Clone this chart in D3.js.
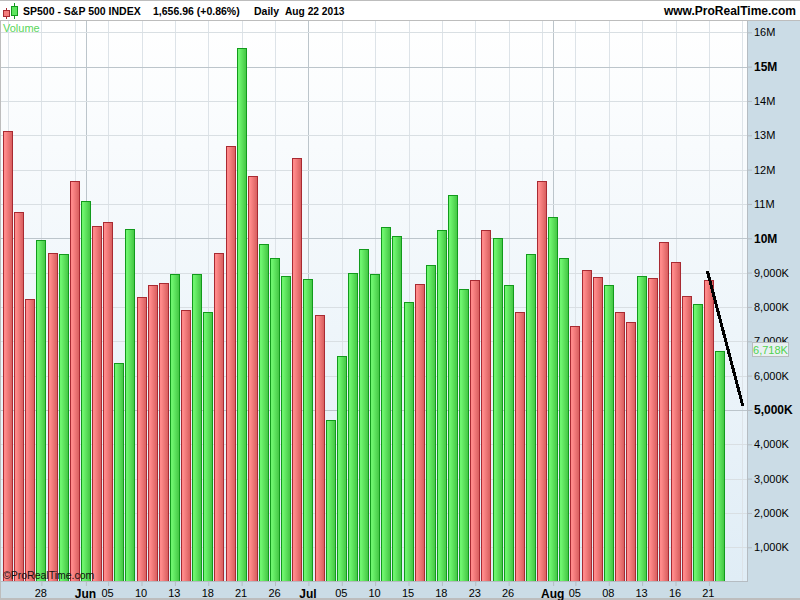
<!DOCTYPE html>
<html>
<head>
<meta charset="utf-8">
<title>SP500 volume</title>
<script src="https://cdn.jsdelivr.net/npm/d3@7/dist/d3.min.js"></script>
<style>
  html, body { margin: 0; padding: 0; background: #fff; }
  svg { display: block; }
  text { font-family: "Liberation Sans", Arial, sans-serif; }
</style>
</head>
<body>
<div id="chart"></div>
<script>
'use strict';

// volume per session, in millions
var volumes = [
  13.12, 10.78, 8.24, 9.94, 9.58, 9.53, 11.68, 11.09, 10.35, 10.46,
  6.38, 10.26, 8.30, 8.65, 8.71, 8.97, 7.91, 8.97, 7.85, 9.58,
  12.68, 15.53, 11.80, 9.82, 9.44, 8.91, 12.33, 8.82, 7.76, 4.70,
  6.58, 9.00, 9.70, 8.97, 10.32, 10.06, 8.14, 8.67, 9.22, 10.23,
  11.27, 8.52, 8.79, 10.23, 10.00, 8.64, 7.85, 9.55, 11.67, 10.62,
  9.44, 7.45, 9.09, 8.88, 8.65, 7.85, 7.56, 8.91, 8.85, 9.90,
  9.32, 8.33, 8.09, 8.79, 6.718
];

// d = down session (red), u = up session (green)
var directions = [
  'd', 'd', 'd', 'u', 'd', 'u', 'd', 'u', 'd', 'd',
  'u', 'u', 'd', 'd', 'd', 'u', 'd', 'u', 'u', 'd',
  'd', 'u', 'd', 'u', 'u', 'u', 'd', 'u', 'd', 'u',
  'u', 'u', 'u', 'u', 'u', 'u', 'u', 'd', 'u', 'u',
  'u', 'u', 'd', 'd', 'u', 'u', 'd', 'u', 'd', 'u',
  'u', 'd', 'd', 'd', 'u', 'd', 'd', 'u', 'd', 'd',
  'd', 'd', 'u', 'd', 'u'
];

var xTickIndex = [3, 7, 9, 12, 15, 18, 21, 24, 27, 30, 33, 36, 39, 42, 45, 49, 51, 54, 57, 60, 63];
var xTickLabels = ['28', 'Jun', '05', '10', '13', '18', '21', '26', 'Jul', '05', '10', '15', '18', '23', '26', 'Aug', '05', '08', '13', '16', '21'];
var monthLabels = ['Jun', 'Jul', 'Aug'];
var xGridIndex = [0, 3, 6, 9, 12, 15, 18, 21, 24, 27, 30, 33, 36, 39, 42, 45, 48, 51, 54, 57, 60, 63, 66];
var xMonthIndex = [7, 27, 49];

var yTicks = [1, 2, 3, 4, 5, 6, 7, 8, 9, 10, 11, 12, 13, 14, 15, 16];
var yMajor = [5, 10, 15];

// hand drawn trend line on the chart, session index and volume
var trendIndex = [62.86, 66.05];
var trendVolume = [9.05, 5.12];

var lastValueLabel = '6,718K';

var W = 800, H = 600;
var plotRight = 747, plotTop = 21, plotBottom = 581;

var x = d3.scaleLinear().domain([0, 64]).range([8, 720]);
var y = d3.scaleLinear().domain([0, 16]).range([581.6, 32.3]);

var svg = d3.select('#chart').append('svg').attr('width', W).attr('height', H);
var defs = svg.append('defs');

var bgGrad = defs.append('linearGradient').attr('id', 'bgGrad')
  .attr('x1', 0).attr('y1', 0).attr('x2', 0).attr('y2', 1);
bgGrad.append('stop').attr('offset', '0%').attr('stop-color', '#ffffff');
bgGrad.append('stop').attr('offset', '100%').attr('stop-color', '#e0edf6');

var addBarGrad = function addBarGrad(id, light, dark) {
  var g = defs.append('linearGradient').attr('id', id)
    .attr('x1', 0).attr('y1', 0).attr('x2', 1).attr('y2', 0);
  g.append('stop').attr('offset', '0%').attr('stop-color', light);
  g.append('stop').attr('offset', '20%').attr('stop-color', light);
  g.append('stop').attr('offset', '100%').attr('stop-color', dark);
};
addBarGrad('redBar', '#ff8a8a', '#d65c5c');
addBarGrad('greenBar', '#6ef56e', '#42c442');

/* panels */
svg.append('rect').attr('width', W).attr('height', H).attr('fill', '#bdbdbd');
svg.append('rect').attr('x', 0).attr('y', 1).attr('width', W).attr('height', 19).attr('fill', '#fff');
svg.append('rect').attr('x', 1).attr('y', plotTop).attr('width', W - 1).attr('height', 577).attr('fill', '#cbdce6');
svg.append('rect').attr('x', 1).attr('y', plotTop).attr('width', plotRight - 1).attr('height', plotBottom - plotTop).attr('fill', 'url(#bgGrad)');

/* grid */
var grid = svg.append('g').attr('shape-rendering', 'crispEdges');
grid.selectAll('line.v').data(xGridIndex).enter().append('line')
  .attr('class', 'v')
  .attr('x1', function (d) { return Math.round(x(d)) + 0.5; })
  .attr('x2', function (d) { return Math.round(x(d)) + 0.5; })
  .attr('y1', plotTop).attr('y2', plotBottom)
  .attr('stroke', '#dde3e8');
grid.selectAll('line.m').data(xMonthIndex).enter().append('line')
  .attr('class', 'm')
  .attr('x1', function (d) { return Math.round(x(d)) + 0.5; })
  .attr('x2', function (d) { return Math.round(x(d)) + 0.5; })
  .attr('y1', plotTop).attr('y2', plotBottom)
  .attr('stroke', '#bcc5cb');
grid.selectAll('line.h').data(yTicks).enter().append('line')
  .attr('class', 'h')
  .attr('x1', 1).attr('x2', plotRight)
  .attr('y1', function (d) { return Math.round(y(d)) + 0.5; })
  .attr('y2', function (d) { return Math.round(y(d)) + 0.5; })
  .attr('stroke', function (d) { return yMajor.indexOf(d) >= 0 ? '#bcc5cb' : '#d9dfe3'; });

/* bars */
svg.append('g').attr('shape-rendering', 'crispEdges')
  .selectAll('rect').data(volumes).enter().append('rect')
  .attr('x', function (d, i) { return Math.round(x(i) - 5) + 0.5; })
  .attr('y', function (d) { return Math.round(y(d)) + 0.5; })
  .attr('width', 9)
  .attr('height', function (d) { return plotBottom - Math.round(y(d)); })
  .attr('fill', function (d, i) { return directions[i] === 'u' ? 'url(#greenBar)' : 'url(#redBar)'; })
  .attr('stroke', function (d, i) { return directions[i] === 'u' ? '#129a1c' : '#a82a32'; });

/* plot frame */
svg.append('line').attr('x1', plotRight + 0.5).attr('x2', plotRight + 0.5).attr('y1', plotTop).attr('y2', plotBottom + 1)
  .attr('stroke', '#b5bcc2');
svg.append('line').attr('x1', 1).attr('x2', plotRight).attr('y1', plotBottom + 0.5).attr('y2', plotBottom + 0.5)
  .attr('stroke', '#b5bcc2');

/* y axis */
var yAxis = d3.axisRight(y)
  .tickValues(yTicks)
  .tickSize(5)
  .tickPadding(2)
  .tickFormat(function (d) { return d >= 10 ? d + 'M' : d3.format(',')(d * 1000) + 'K'; });
var yG = svg.append('g').attr('transform', 'translate(' + plotRight + ',0)').call(yAxis);
yG.select('.domain').remove();
yG.selectAll('line').attr('stroke', '#b5bcc2');
yG.selectAll('text')
  .attr('fill', '#000')
  .style('font-size', function (d) { return yMajor.indexOf(d) >= 0 ? '12px' : '11px'; })
  .style('font-weight', function (d) { return yMajor.indexOf(d) >= 0 ? 'bold' : 'normal'; });

/* x axis */
var xAxis = d3.axisBottom(x)
  .tickValues(xTickIndex)
  .tickSize(5)
  .tickPadding(3)
  .tickFormat(function (d, i) { return xTickLabels[i]; });
var xG = svg.append('g').attr('transform', 'translate(0,' + plotBottom + ')').call(xAxis);
xG.select('.domain').remove();
xG.selectAll('line').attr('stroke', '#b5bcc2');
xG.selectAll('text')
  .attr('dx', -1)
  .attr('fill', '#000')
  .style('font-size', function (d, i) { return monthLabels.indexOf(xTickLabels[i]) >= 0 ? '12px' : '11px'; })
  .style('font-weight', function (d, i) { return monthLabels.indexOf(xTickLabels[i]) >= 0 ? 'bold' : 'normal'; });

/* last value box */
svg.append('rect').attr('x', 752.5).attr('y', 342.5).attr('width', 36).attr('height', 14)
  .attr('fill', '#e9f0f2').attr('stroke', '#b8bcbe');
svg.append('text').attr('x', 770.5).attr('y', 354)
  .attr('text-anchor', 'middle').attr('font-size', 11).attr('fill', '#4fd24f')
  .text(lastValueLabel);

/* trend line */
svg.append('line')
  .attr('x1', x(trendIndex[0])).attr('y1', y(trendVolume[0]))
  .attr('x2', x(trendIndex[1])).attr('y2', y(trendVolume[1]))
  .attr('stroke', '#000').attr('stroke-width', 3)
  .attr('shape-rendering', 'crispEdges');

/* header */
var icon = svg.append('g').attr('shape-rendering', 'crispEdges');
icon.append('line').attr('x1', 6.5).attr('x2', 6.5).attr('y1', 8).attr('y2', 19).attr('stroke', '#a82a32');
icon.append('rect').attr('x', 3.5).attr('y', 10.5).attr('width', 6).attr('height', 6).attr('fill', '#f47c7c').attr('stroke', '#a82a32');
icon.append('line').attr('x1', 14.5).attr('x2', 14.5).attr('y1', 3).attr('y2', 19).attr('stroke', '#129a1c');
icon.append('rect').attr('x', 11.5).attr('y', 6.5).attr('width', 6).attr('height', 9).attr('fill', '#5ee65e').attr('stroke', '#129a1c');

var headerText = function headerText(tx, s, size, anchor) {
  svg.append('text').attr('x', tx).attr('y', 15)
    .attr('text-anchor', anchor || 'start')
    .attr('font-size', size).attr('font-weight', 'bold').attr('fill', '#000')
    .text(s);
};
headerText(23, 'SP500 - S&P 500 INDEX', 10.5);
headerText(153, '1,656.96 (+0.86%)', 10.5);
headerText(254, 'Daily', 10.5);
headerText(285, 'Aug 22 2013', 10.2);
headerText(796, 'www.ProRealTime.com', 12, 'end');

svg.append('text').attr('x', 3).attr('y', 32).attr('font-size', 11).attr('fill', '#5ad65a').text('Volume');
svg.append('text').attr('x', 3).attr('y', 579).attr('font-size', 10.5).attr('fill', '#111').text('©ProRealTime.com');
</script>
</body>
</html>
